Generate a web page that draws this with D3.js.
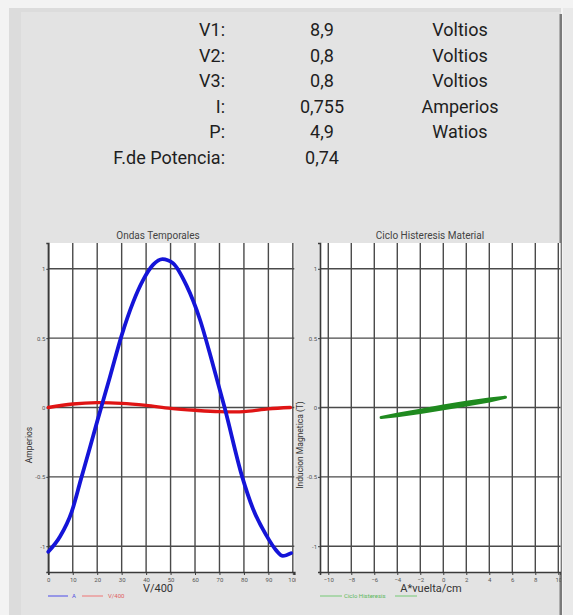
<!DOCTYPE html>
<html><head><meta charset="utf-8">
<script src="https://cdn.jsdelivr.net/npm/d3@7"></script>
<style>html,body{margin:0;padding:0;background:#f4f4f4;}svg{display:block;font-family:Roboto,"Noto Sans",sans-serif;}</style>
</head><body>
<script>
// ---- data ----
const filasEtiqueta = ["V1:", "V2:", "V3:", "I:", "P:", "F.de Potencia:"];
const filasValor = ["8,9", "0,8", "0,8", "0,755", "4,9", "0,74"];
const filasUnidad = ["Voltios", "Voltios", "Voltios", "Amperios", "Watios", ""];

const tiempoX = [0, 4.8, 9.6, 13.3, 17, 20, 25.2, 30, 34.7, 38.8, 42.9, 46.7, 51, 56.5, 61.9, 67.3, 72.1, 79.3, 83.7, 89.1, 93.2, 95.9, 99.3];
const corrienteA = [-1.04, -0.93, -0.75, -0.52, -0.29, -0.1, 0.22, 0.52, 0.76, 0.92, 1.03, 1.07, 1.04, 0.88, 0.64, 0.31, 0.0, -0.5, -0.73, -0.92, -1.03, -1.07, -1.05];
const voltX = [0, 10, 20, 30, 40, 50, 60, 70, 80, 90, 99];
const voltV = [0.0, 0.025, 0.035, 0.03, 0.015, -0.006, -0.02, -0.03, -0.03, -0.01, 0.0];

const cicloH = [-5.4, -4, -2, 0, 2, 4, 5.4, 4, 2, 0, -2, -4, -5.4];
const cicloB = [-0.072, -0.050, -0.020, 0.010, 0.038, 0.060, 0.074, 0.048, 0.018, -0.008, -0.036, -0.058, -0.072];

const ticksTiempo = [0, 10, 20, 30, 40, 50, 60, 70, 80, 90, 100];
const ticksH = [-10, -8, -6, -4, -2, 0, 2, 4, 6, 8, 10];
const ticksY = [-1, -0.5, 0, 0.5, 1];

// ---- drawing ----
const W = 573, H = 615;
const svg = d3.select("body").append("svg").attr("width", W).attr("height", H);

// panel frame
svg.append("rect").attr("x", 0).attr("y", 0).attr("width", W).attr("height", H).attr("fill", "#f3f3f3");
svg.append("rect").attr("x", 9).attr("y", 8).attr("width", 552).attr("height", H - 8).attr("fill", "#e3e3e3");
svg.append("rect").attr("x", 9).attr("y", 8).attr("width", 12).attr("height", H - 8).attr("fill", "#dcdcdc");
svg.append("rect").attr("x", 9).attr("y", 8).attr("width", 552).attr("height", 4).attr("fill", "#dcdcdc");
svg.append("rect").attr("x", 559.5).attr("y", 14).attr("width", 2.5).attr("height", H - 14).attr("fill", "#7a7a7a");
svg.append("rect").attr("x", 563).attr("y", 8).attr("width", 10).attr("height", H - 8).attr("fill", "#e9e9e9");

// top table
const rowY = d3.scalePoint().domain(d3.range(filasEtiqueta.length)).range([36, 164]);
const tabla = svg.append("g").attr("font-size", 18).attr("fill", "#1e1e1e");
filasEtiqueta.forEach((t, i) => {
  tabla.append("text").attr("x", 225).attr("y", rowY(i)).attr("text-anchor", "end").text(t);
  tabla.append("text").attr("x", 322).attr("y", rowY(i)).attr("text-anchor", "middle").text(filasValor[i]);
  if (filasUnidad[i]) tabla.append("text").attr("x", 460).attr("y", rowY(i)).attr("text-anchor", "middle").text(filasUnidad[i]);
});

const plotTop = 243, plotBottom = 572;
const yS = d3.scaleLinear().domain([-1.186, 1.186]).range([plotBottom, plotTop]);

function drawChart(opt) {
  const g = svg.append("g");
  const clipId = "clip" + opt.id;
  svg.append("clipPath").attr("id", clipId).append("rect")
    .attr("x", 0).attr("y", 0).attr("width", opt.clipRight).attr("height", H);
  g.attr("clip-path", `url(#${clipId})`);
  const x = opt.x;
  const [x0, x1] = x.range();
  g.append("rect").attr("x", x0).attr("y", plotTop).attr("width", x1 - x0).attr("height", plotBottom - plotTop).attr("fill", "#ffffff");
  // grid
  g.append("g").selectAll("line").data(opt.xticks).join("line")
    .attr("x1", d => x(d)).attr("x2", d => x(d)).attr("y1", plotTop).attr("y2", plotBottom)
    .attr("stroke", "#4a4a4a").attr("stroke-width", 1.4);
  g.append("g").selectAll("line").data(ticksY).join("line")
    .attr("x1", x0).attr("x2", x1).attr("y1", d => yS(d)).attr("y2", d => yS(d))
    .attr("stroke", "#4a4a4a").attr("stroke-width", 1.4);
  // axes
  const ax = g.append("g").attr("transform", `translate(0,${plotBottom})`)
    .call(d3.axisBottom(x).tickValues(opt.xticks).tickSize(3).tickPadding(3).tickFormat(d3.format("d")));
  const ay = g.append("g").attr("transform", `translate(${x0},0)`)
    .call(d3.axisLeft(yS).tickValues(ticksY).tickSize(2).tickPadding(1).tickFormat(d => String(d)));
  [ax, ay].forEach(a => {
    a.select(".domain").attr("stroke", "#3a3a3a").attr("stroke-width", 1.6);
    a.selectAll(".tick line").attr("stroke", "#3a3a3a");
    a.selectAll("text").attr("font-size", 6).attr("fill", "#555").attr("font-family", "Roboto, sans-serif");
  });
  // title
  g.append("text").attr("x", opt.titleX).attr("y", 239).attr("text-anchor", "middle")
    .attr("font-size", 10).attr("fill", "#444").text(opt.title);
  // x label
  g.append("text").attr("x", opt.xlabX).attr("y", 592).attr("text-anchor", "middle")
    .attr("font-size", 11).attr("fill", "#333").text(opt.xlab);
  // y label
  g.append("text").attr("transform", `translate(${opt.ylabX},445) rotate(-90)`).attr("text-anchor", "middle")
    .attr("font-size", 8.5).attr("fill", "#333").text(opt.ylab);
  // series
  const plotG = g.append("g");
  opt.series.forEach(s => {
    const pts = s.xs.map((v, i) => [v, s.ys[i]]);
    plotG.append("path").datum(pts)
      .attr("d", d3.line().x(d => x(d[0])).y(d => yS(d[1])).curve(s.curve))
      .attr("fill", "none").attr("stroke", s.color).attr("stroke-width", s.width)
      .attr("stroke-linejoin", "round").attr("stroke-linecap", "round");
  });
  // legend
  opt.legend.forEach(l => {
    if (l.type === "line") g.append("line").attr("x1", l.x).attr("x2", l.x + l.w).attr("y1", 596).attr("y2", 596)
      .attr("stroke", l.color).attr("stroke-width", 1.3);
    else g.append("text").attr("x", l.x).attr("y", 598).attr("font-size", 6).attr("fill", l.color).text(l.text);
  });
}

drawChart({
  id: "L",
  x: d3.scaleLinear().domain([0, 100.6]).range([48.3, 294.3]),
  xticks: ticksTiempo, clipRight: 296,
  title: "Ondas Temporales", titleX: 158,
  xlab: "V/400", xlabX: 158,
  ylab: "Amperios", ylabX: 32,
  series: [
    {xs: voltX, ys: voltV, color: "#e01414", width: 3.4, curve: d3.curveCatmullRom},
    {xs: tiempoX, ys: corrienteA, color: "#1414d8", width: 3.8, curve: d3.curveMonotoneX}
  ],
  legend: [
    {type: "line", x: 48, w: 20, color: "#6f6fe8"},
    {type: "text", x: 72, text: "A", color: "#5050e0"},
    {type: "line", x: 82, w: 21, color: "#ec8f8f"},
    {type: "text", x: 108, text: "V/400", color: "#e06060"}
  ]
});

drawChart({
  id: "R",
  x: d3.scaleLinear().domain([-10.72, 10.2]).range([320, 560.6]),
  xticks: ticksH, clipRight: 561,
  title: "Ciclo Histeresis Material", titleX: 430,
  xlab: "A*vuelta/cm", xlabX: 431,
  ylab: "Inducion Magnetica (T)", ylabX: 303,
  series: [
    {xs: cicloH, ys: cicloB, color: "#1f8a1f", width: 3.2, curve: d3.curveLinear}
  ],
  legend: [
    {type: "line", x: 320, w: 22, color: "#8fd08f"},
    {type: "text", x: 344, text: "Ciclo Histeresis", color: "#5cb85c"},
    {type: "line", x: 395, w: 22, color: "#8fd08f"}
  ]
});
</script>
</body></html>
